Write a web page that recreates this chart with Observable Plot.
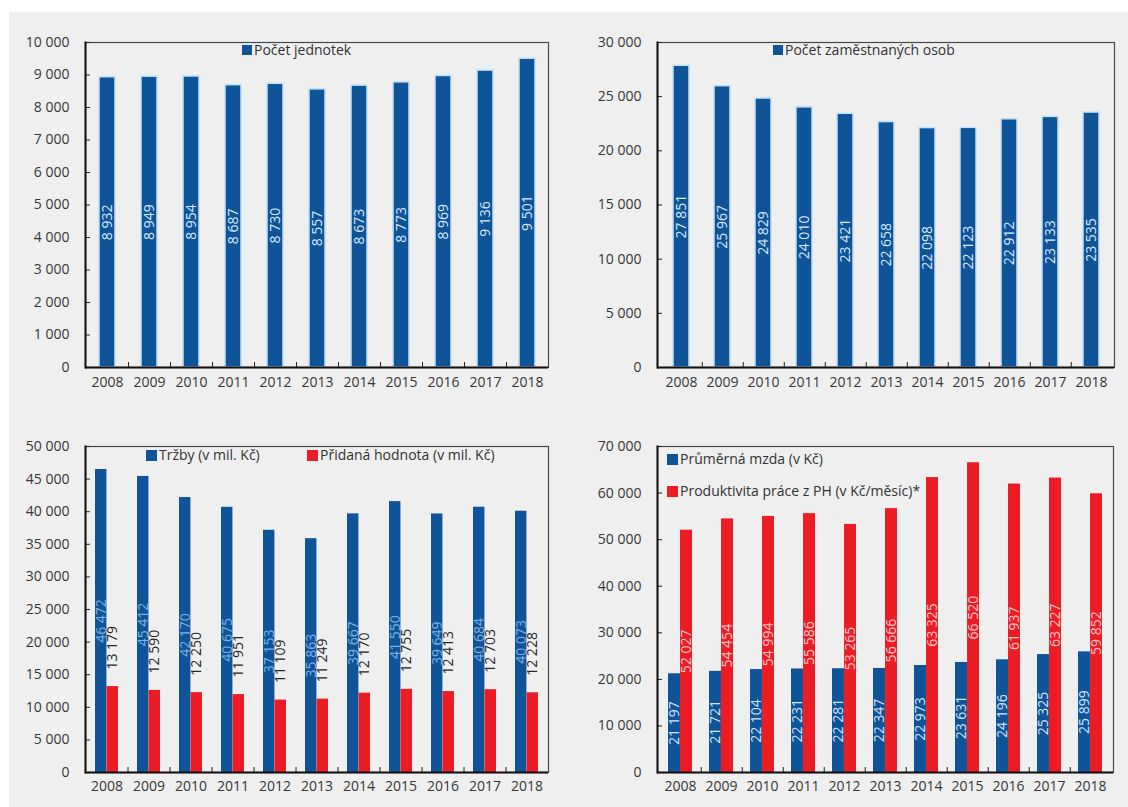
<!DOCTYPE html>
<html>
<head>
<meta charset="utf-8">
<script src="https://cdn.jsdelivr.net/npm/d3@7"></script>
<script src="https://cdn.jsdelivr.net/npm/@observablehq/plot@0.6"></script>
<style>
  html, body { margin: 0; padding: 0; background: #fff; width: 1128px; height: 807px; overflow: hidden; font-family: "Open Sans", sans-serif; }
  #sheet { position: absolute; left: 9px; top: 12px; right: 0; bottom: 0; background: #efefef; }
  .panel { position: absolute; }
  .panel svg { display: block; }
  .key { position: absolute; display: flex; align-items: center; font-size: 14px; color: #333; white-space: nowrap; line-height: 14px; height: 14px; }
  .key i { display: inline-block; width: 10px; height: 10px; margin-right: 2px; }
</style>
</head>
<body>
<div id="sheet"></div>
<script>
// Years on the horizontal axis of every panel
const years = ["2008", "2009", "2010", "2011", "2012", "2013", "2014", "2015", "2016", "2017", "2018"];

// Počet jednotek
const units = [8932, 8949, 8954, 8687, 8730, 8557, 8673, 8773, 8969, 9136, 9501];
// Počet zaměstnaných osob
const employees = [27851, 25967, 24829, 24010, 23421, 22658, 22098, 22123, 22912, 23133, 23535];
// Tržby (v mil. Kč)
const sales = [46472, 45412, 42170, 40675, 37153, 35863, 39667, 41550, 39649, 40684, 40073];
// Přidaná hodnota (v mil. Kč)
const addedValue = [13179, 12590, 12250, 11951, 11109, 11249, 12170, 12755, 12413, 12703, 12228];
// Průměrná mzda (v Kč)
const avgWage = [21197, 21721, 22104, 22231, 22281, 22347, 22973, 23631, 24196, 25325, 25899];
// Produktivita práce z PH (v Kč/měsíc)
const productivity = [52027, 54454, 54994, 55586, 53265, 56666, 63325, 66520, 61937, 63227, 59852];

// Y-axis tick values of each panel
const ticksUnits = [0, 1000, 2000, 3000, 4000, 5000, 6000, 7000, 8000, 9000, 10000];
const ticksEmployees = [0, 5000, 10000, 15000, 20000, 25000, 30000];
const ticksSales = [0, 5000, 10000, 15000, 20000, 25000, 30000, 35000, 40000, 45000, 50000];
const ticksWage = [0, 10000, 20000, 30000, 40000, 50000, 60000, 70000];

const BLUE = "#0f5499";
const RED = "#ec1c24";

// Czech number format: space as the thousands separator
const fmt = d3.formatLocale({decimal: ",", thousands: "\u00a0", grouping: [3], currency: ["", ""]}).format(",d");

function drawPanel(cfg) {
  const {left, top, width, height, mt, mr, mb, ml, yMax, yTicks, padding, series, xPad, keys} = cfg;
  const plotW = width - ml - mr;
  const plotH = height - mt - mb;
  const step = plotW / years.length;
  const bw = step * (1 - padding);
  const n = series.length;
  const part = bw / n;

  const marks = [];
  series.forEach((s, i) => {
    const rows = years.map((year, j) => ({year, value: s.values[j]}));
    marks.push(Plot.barY(rows, {
      x: "year", y: "value", fill: s.color,
      insetLeft: i * part, insetRight: (n - 1 - i) * part,
      stroke: s.halo || "none", strokeWidth: s.halo ? 1.5 : 0
    }));
  });
  series.forEach((s, i) => {
    const rows = years.map((year, j) => ({year, value: s.values[j]}));
    const shift = (i - (n - 1) / 2) * part;
    if (s.label === "end") {
      marks.push(Plot.text(rows, {
        x: "year", y: "value", text: d => fmt(d.value), rotate: -90,
        textAnchor: "start", dx: shift, dy: -17, fill: s.labelColor, fontSize: 14
      }));
    } else {
      marks.push(Plot.text(rows, {
        x: "year", y: d => d.value / 2, text: d => fmt(d.value), rotate: -90,
        dx: shift, fill: s.labelColor, fontSize: 14
      }));
    }
  });

  // plot box, inward ticks and the heavier axis lines
  marks.push(Plot.frame({stroke: "#4a4a4a", strokeWidth: 1.2}));
  marks.push(Plot.tickY(yTicks, {y: d => d, insetRight: plotW - 5, stroke: "#222"}));
  marks.push(Plot.tickX(years.slice(0, -1), {x: d => d, dx: step / 2, insetTop: plotH - 5, stroke: "#222"}));
  marks.push(Plot.ruleY([0], {stroke: "#111", strokeWidth: 2}));
  marks.push(Plot.frame({anchor: "left", stroke: "#111", strokeWidth: 2}));

  const chart = Plot.plot({
    width, height,
    marginTop: mt, marginRight: mr, marginBottom: mb, marginLeft: ml,
    style: {background: "transparent", fontFamily: "'Open Sans', sans-serif", fontSize: "14px", color: "#363636", overflow: "visible"},
    x: {type: "band", domain: years, paddingInner: padding, paddingOuter: padding / 2, tickSize: 0, tickPadding: xPad, label: null},
    y: {domain: [0, yMax], ticks: yTicks, tickFormat: fmt, tickSize: 0, tickPadding: 16, label: null},
    marks
  });

  const wrap = document.createElement("div");
  wrap.className = "panel";
  wrap.style.left = left + "px";
  wrap.style.top = top + "px";
  wrap.appendChild(chart);
  document.body.appendChild(wrap);

  // series keys placed inside the plot box
  for (const k of keys) {
    const el = document.createElement("div");
    el.className = "key";
    el.style.left = k.left + "px";
    el.style.top = k.top + "px";
    const sw = document.createElement("i");
    sw.style.background = k.color;
    if (k.size) { sw.style.width = k.size + "px"; sw.style.height = k.size + "px"; }
    el.appendChild(sw);
    el.appendChild(document.createTextNode(k.name));
    document.body.appendChild(el);
  }
}

// Počet jednotek
drawPanel({
  left: 0, top: 30, width: 560, height: 370, mt: 12, mr: 12, mb: 33, ml: 85,
  yMax: 10000, yTicks: ticksUnits, padding: 0.63, xPad: 10,
  series: [{values: units, color: BLUE, halo: "#c2e0f6", labelColor: "#d8e9f9"}],
  keys: [{name: "Počet jednotek", color: BLUE, left: 242, top: 43}]
});

// Počet zaměstnaných osob
drawPanel({
  left: 570, top: 30, width: 558, height: 370, mt: 12, mr: 14, mb: 33, ml: 87,
  yMax: 30000, yTicks: ticksEmployees, padding: 0.615, xPad: 10,
  series: [{values: employees, color: BLUE, halo: "#c2e0f6", labelColor: "#d8e9f9"}],
  keys: [{name: "Počet zaměstnaných osob", color: BLUE, left: 773, top: 43}]
});

// Tržby a přidaná hodnota
drawPanel({
  left: 0, top: 430, width: 560, height: 377, mt: 16, mr: 12, mb: 35, ml: 85,
  yMax: 50000, yTicks: ticksSales, padding: 0.45, xPad: 9,
  series: [
    {values: sales, color: BLUE, labelColor: "#7eb2e4"},
    {values: addedValue, color: RED, labelColor: "#262626", label: "end"}
  ],
  keys: [
    {name: "Tržby (v mil. Kč)", color: BLUE, left: 146, top: 448, size: 11},
    {name: "Přidaná hodnota (v mil. Kč)", color: RED, left: 307, top: 448, size: 11}
  ]
});

// Průměrná mzda a produktivita práce
drawPanel({
  left: 570, top: 430, width: 558, height: 377, mt: 16, mr: 15, mb: 35, ml: 87,
  yMax: 70000, yTicks: ticksWage, padding: 0.42, xPad: 9,
  series: [
    {values: avgWage, color: BLUE, labelColor: "#d3e3f6"},
    {values: productivity, color: RED, labelColor: "#fbc9c9"}
  ],
  keys: [
    {name: "Průměrná mzda (v Kč)", color: BLUE, left: 667, top: 452, size: 11},
    {name: "Produktivita práce z PH (v Kč/měsíc)*", color: RED, left: 667, top: 484, size: 11}
  ]
});
</script>
</body>
</html>
